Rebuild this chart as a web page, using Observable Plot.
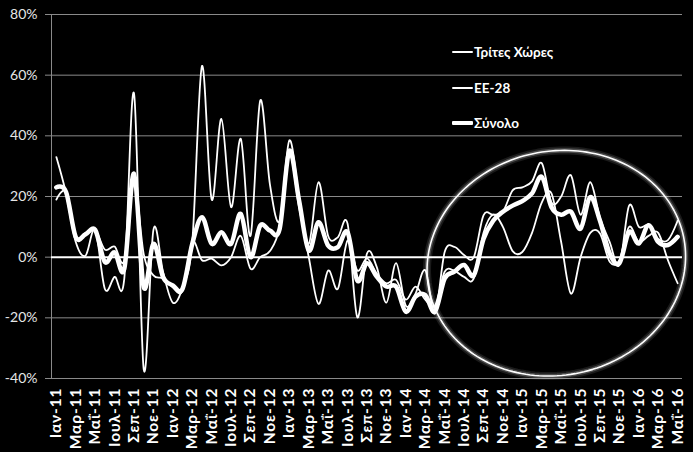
<!DOCTYPE html>
<html><head><meta charset="utf-8">
<script src="https://cdn.jsdelivr.net/npm/d3@7"></script>
<script src="https://cdn.jsdelivr.net/npm/@observablehq/plot@0.6"></script>
<style>
html,body{margin:0;padding:0;background:#000;}
#wrap{position:relative;width:693px;height:452px;overflow:hidden;}
.lg{position:absolute;left:452px;height:16px;display:flex;align-items:center;font:bold 13.5px Lato,"Open Sans",sans-serif;color:#fff;white-space:nowrap;}
.lg span.s{display:inline-block;width:21px;background:#fff;margin-right:1px;border-radius:1px;}
g[aria-label="x-axis tick label"] text{letter-spacing:0.9px;}
</style></head><body><div id="wrap"></div>
<script>
const monthNames = ["Ιαν","Φεβ","Μαρ","Απρ","Μαΐ","Ιουν","Ιουλ","Αυγ","Σεπ","Οκτ","Νοε","Δεκ"];
const years = ["11","12","13","14","15","16"];
const labels = [];
years.forEach(y => monthNames.forEach(m => { if (labels.length < 65) labels.push(m + "-" + y); }));

const seriesNames = ["Τρίτες Χώρες", "ΕΕ-28", "Σύνολο"];

const thirdCountries = [33,21,5,0.5,9,-10.5,-6.5,-7,54,-37,9,-5,-15,-10,5,63,19,45.6,16.5,39,7,51.6,24,12,38.5,20,4.4,24.7,7,6.6,11,-19.8,1.2,-3.2,-15,-2,-16,-12,-4.3,-18.5,1.7,3.4,0.7,0,13.8,14,15,22,23,25,31,18,20,27,14,24.7,13,5,-2.6,17,10,10.5,6,5.6,12];
const eu28 = [19,21.5,7,8,9,2.5,3.5,-1,25,1,-6,-7,-10,-11,5,-1,-0.5,-2.7,0,7,-3.8,0,2,10,34,16.5,0,-15.4,-4.4,-10.4,5.5,-4.4,-0.4,-5.4,-8.6,-7.5,-14,-9.7,-14,-16,-4.8,-4.5,-6.5,-7,8,14,10,2,1.7,8,18,21,5,-12,0,8,7.8,-1.5,-1,10,5,7,8,-1,-8.6];
const total = [23,21.5,6.6,7.5,9,-1.6,1.6,-3.8,27.5,-9.9,4.4,-6.6,-9.3,-10.4,4.4,13.2,4.4,8.2,4.4,14.3,0,10.4,8.8,9.3,35,18.7,2.2,11.5,3.8,3.3,8.2,-7.7,-2,-6.4,-9.7,-9.7,-18,-13,-12.5,-18,-7,-4.8,-2.6,-6,6,12,15,17,18.5,21,26.5,16.5,14,15,9.4,19.8,12,1.2,-2,8.3,4.5,10.5,5,4,6.7];

const yTicks = [-40,-20,0,20,40,60,80];
const xTicks = d3.range(0, 65, 2);

const data = labels.map((m,i)=>({i, m, a: thirdCountries[i], b: eu28[i], t: total[i]}));

// highlight ellipse: centre in data units, radii in px, tilt in degrees
const ellipseSpec = {cx: 51.5, cy: -2, rx: 130, ry: 112, angle: -12};
const xs = d3.scaleLinear([-0.5, 64.5], [51, 682]);
const ys = d3.scaleLinear([-40, 80], [378, 14]);
const th = ellipseSpec.angle * Math.PI / 180;
const ecx = xs(ellipseSpec.cx), ecy = ys(ellipseSpec.cy);
const ell = d3.range(0, 361, 2).map(deg => {
  const t = deg * Math.PI / 180;
  const px = ecx + ellipseSpec.rx*Math.cos(t)*Math.cos(th) - ellipseSpec.ry*Math.sin(t)*Math.sin(th);
  const py = ecy + ellipseSpec.rx*Math.cos(t)*Math.sin(th) + ellipseSpec.ry*Math.sin(t)*Math.cos(th);
  return {x: xs.invert(px), y: ys.invert(py)};
});

const font = "Lato, 'Open Sans', sans-serif";
const plot = Plot.plot({
  width: 693, height: 452,
  marginTop: 14, marginBottom: 74, marginLeft: 51, marginRight: 11,
  style: {background: "#000", color: "#fff", fontFamily: font},
  x: {domain: [-0.5, 64.5], label: null},
  y: {domain: [-40, 80], label: null},
  marks: [
    Plot.gridY(yTicks.filter(d => d !== 0), {stroke: "#8a8a8a", strokeOpacity: 1, strokeWidth: 1}),
    Plot.ruleX([-0.5], {y1: -40, y2: 80, stroke: "#8a8a8a", strokeWidth: 1}),
    Plot.axisY(yTicks, {tickFormat: d => d + "%", tickSize: 6, tickPadding: 8, fontSize: 14, fill: "#e6e6e6", stroke: "#8a8a8a", label: null}),
    Plot.axisX(xTicks, {tickFormat: i => labels[i], tickRotate: -90, tickSize: 0, tickPadding: 9, fontSize: 15.5, fontWeight: "bold", fill: "#fff", label: null}),
    Plot.ruleY([0], {stroke: "#fff", strokeWidth: 2}),
    Plot.line(ell, {x: "x", y: "y", stroke: "#fff", strokeWidth: 8, strokeOpacity: 0.1, curve: "linear-closed"}),
    Plot.line(ell, {x: "x", y: "y", stroke: "#fff", strokeWidth: 4.5, strokeOpacity: 0.22, curve: "linear-closed"}),
    Plot.line(ell, {x: "x", y: "y", stroke: "#fff", strokeWidth: 1.6, curve: "linear-closed"}),
    Plot.line(data, {x: "i", y: "a", curve: "cardinal", stroke: "#fff", strokeWidth: 1.8}),
    Plot.line(data, {x: "i", y: "b", curve: "cardinal", stroke: "#fff", strokeWidth: 1.8}),
    Plot.line(data, {x: "i", y: "t", curve: "cardinal", stroke: "#fff", strokeWidth: 4.5})
  ]
});
const wrap = document.getElementById("wrap");
wrap.appendChild(plot);

const legendY = [44, 80, 115];
const legendW = [2, 2, 4.5];
seriesNames.forEach((n, k) => {
  const d = document.createElement("div");
  d.className = "lg";
  d.style.top = legendY[k] + "px";
  d.innerHTML = `<span class="s" style="height:${legendW[k]}px"></span>${n}`;
  wrap.appendChild(d);
});
</script>
</body></html>
